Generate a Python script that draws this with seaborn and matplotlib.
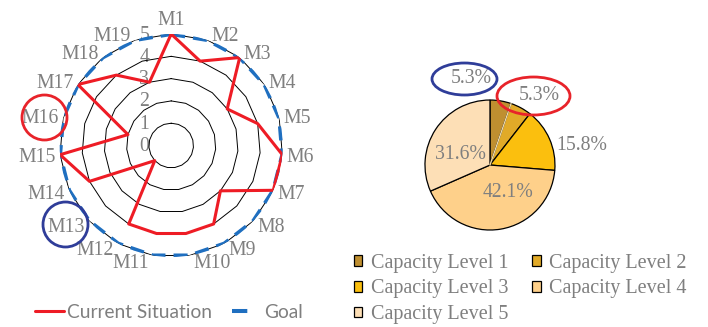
import numpy as np
import pandas as pd
import matplotlib
matplotlib.use("Agg")
import matplotlib.pyplot as plt
from matplotlib.patches import Patch, Ellipse
from matplotlib.lines import Line2D
import seaborn as sns

# ---- data -------------------------------------------------------------
measures = ["M1", "M2", "M3", "M4", "M5", "M6", "M7", "M8", "M9", "M10",
            "M11", "M12", "M13", "M14", "M15", "M16", "M17", "M18", "M19"]
current = [5, 4, 5, 3, 4, 5, 5, 3, 4, 4, 4, 4, 1, 4, 5, 2, 5, 4, 3]
goal = [5, 5, 5, 5, 5, 5, 5, 5, 5, 5, 5, 5, 5, 5, 5, 5, 5, 5, 5]
radial_ticks = [0, 1, 2, 3, 4, 5]

levels = ["Capacity Level 1", "Capacity Level 2", "Capacity Level 3",
          "Capacity Level 4", "Capacity Level 5"]
level_counts = [1, 1, 3, 8, 6]

# ---- style ------------------------------------------------------------
sns.set_theme(style="white")
plt.rcParams["font.family"] = ["Liberation Serif", "DejaVu Serif"]
GREY = "#7f7f7f"
RED = "#ee1c25"
BLUE = "#1f6fc0"
level_colors = ["#bf8f30", "#e1aa28", "#fbbf0e", "#fed08a", "#fddfb6"]
SERIF_SIZE = 14.2

fig = plt.figure(figsize=(7.08, 3.27), dpi=100)

# ---- radar chart ------------------------------------------------------
ax = fig.add_axes([0.0843, 0.214, 0.315, 0.682], projection="polar")
ax.set_theta_zero_location("N")
ax.set_theta_direction(-1)
ax.set_axis_off()

n = len(measures)
theta = np.linspace(0, 2 * np.pi, n, endpoint=False)
theta_closed = np.append(theta, 2 * np.pi)

df = pd.DataFrame({
    "theta": theta_closed,
    "current": current + current[:1],
    "goal": goal + goal[:1],
})

# polygon grid rings
for k in radial_ticks[1:]:
    ax.plot(theta_closed, [k] * (n + 1), color="black", lw=0.7, zorder=1)

sns.lineplot(data=df, x="theta", y="goal", sort=False, estimator=None,
             color=BLUE, lw=2.9, linestyle=(0, (3.5, 2.0)), ax=ax, zorder=2)
sns.lineplot(data=df, x="theta", y="current", sort=False, estimator=None,
             color=RED, lw=2.2, ax=ax, zorder=3)
ax.set_ylim(0, 5)

# category labels around the rim
for t, name in zip(theta, measures):
    s, c = np.sin(t), np.cos(t)
    if abs(s) < 0.05:
        ha, dx = "center", 0
        va, dy = ("bottom", 4) if c > 0 else ("top", -4)
    else:
        ha = "left" if s > 0 else "right"
        dx = 4 if s > 0 else -4
        va, dy = "center", 6 * c - 2
    ax.annotate(name, xy=(t, radial_ticks[-1]), xytext=(dx, dy),
                textcoords="offset pixels", ha=ha, va=va,
                color=GREY, fontsize=SERIF_SIZE, annotation_clip=False)

# radial value labels along the first spoke
for k in radial_ticks:
    ax.annotate(str(k), xy=(0, k), xytext=(-22, -1),
                textcoords="offset pixels", ha="right", va="center",
                color=GREY, fontsize=SERIF_SIZE, annotation_clip=False,
                zorder=0)

radar_handles = [
    Line2D([], [], color=RED, lw=2.2),
    Line2D([], [], color=BLUE, lw=2.9, linestyle=(0, (3.8, 30))),
]
fig.legend(radar_handles, ["Current Situation", "Goal"],
           loc="center left", bbox_to_anchor=(35 / 708, 15 / 327),
           ncol=2, frameon=False, borderpad=0, borderaxespad=0,
           handlelength=1.5, handletextpad=0.17, columnspacing=1.05,
           prop={"family": "Lato", "size": 13.8}, labelcolor=GREY)

# ---- pie chart --------------------------------------------------------
axp = fig.add_axes([0.5773, 0.2469, 0.2295, 0.4969])
wedges, _ = axp.pie(level_counts, colors=level_colors, startangle=90,
                    counterclock=False,
                    wedgeprops=dict(edgecolor="black", linewidth=0.9))
axp.set_xlim(-1.25, 1.25)
axp.set_ylim(-1.25, 1.25)
axp.set_aspect("equal")

# soft divider between the two smallest slices
total = sum(level_counts)
edge_ang = np.deg2rad(90 - 360 * level_counts[0] / total)
axp.plot([0, np.cos(edge_ang)], [0, np.sin(edge_ang)],
         color="#efd9a6", lw=1.0, zorder=5)

label_xy = [(-0.285, 1.331), (0.754, 1.069), (1.408, 0.30),
            (0.285, -0.423), (-0.462, 0.162)]
for cnt, (x, y) in zip(level_counts, label_xy):
    axp.text(x, y, f"{cnt / total * 100:.1f}%", ha="center", va="center",
             color=GREY, fontsize=SERIF_SIZE)

pie_handles = [Patch(facecolor=c, edgecolor="black", linewidth=0.9)
               for c in level_colors]
order = [0, 2, 4, 1, 3]
fig.legend([pie_handles[i] for i in order], [levels[i] for i in order],
           loc="center left", bbox_to_anchor=(354 / 708, 38 / 327),
           ncol=2, frameon=False, borderpad=0, borderaxespad=0,
           handlelength=0.42, handleheight=0.42, handletextpad=0.4,
           columnspacing=1.2, labelspacing=0.34,
           prop={"family": "Liberation Serif", "size": 14.5},
           labelcolor=GREY)

# ---- highlight rings --------------------------------------------------
ov = fig.add_axes([0, 0, 1, 1], facecolor="none")
ov.set_xlim(0, 708)
ov.set_ylim(327, 0)
ov.set_axis_off()
for (cx, cy, w, h, col) in [(44.5, 117.5, 45, 45, "#e8232a"),
                            (65.5, 224.5, 45, 45, "#2f3d99"),
                            (464.5, 79, 65, 32, "#2f3d99"),
                            (533.5, 96, 73, 38, "#e8232a")]:
    ov.add_patch(Ellipse((cx, cy), w, h, fill=False, ec=col, lw=2.0))

fig.savefig("out.png", dpi=100)
